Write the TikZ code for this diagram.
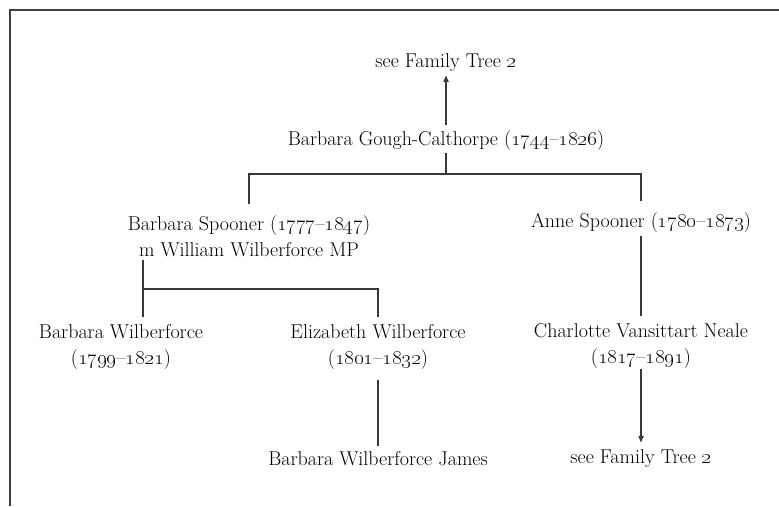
\documentclass[tikz,border=0pt]{standalone}
\usetikzlibrary{arrows.meta}
\newcommand{\yrs}[2]{(\oldstylenums{#1}--\oldstylenums{#2})}
\begin{document}
\begin{tikzpicture}[x=1pt,y=-1pt,
  person/.style={align=center,inner sep=0pt,outer sep=0pt,font=\fontsize{20}{26}\selectfont,text=black},
  link/.style={line width=1.1pt,draw=black!78},
  arr/.style={link,-{Latex[length=7pt,width=6pt]}},
  frame/.style={line width=1.2pt,draw=black!75}]
\useasboundingbox (0,0) rectangle (779,506);
\draw[frame] (779,10) -- (10,10) -- (10,506);
% people
\node[person] (see1) at (446,63) {see Family Tree \oldstylenums{2}};
\node[person] (gc)   at (446,141) {Barbara Gough-Calthorpe \yrs{1744}{1826}};
\node[person] (bs)   at (249,236) {Barbara Spooner \yrs{1777}{1847}\\m William Wilberforce MP};
\node[person] (as)   at (641,223) {Anne Spooner \yrs{1780}{1873}};
\node[person] (bw)   at (121,347) {Barbara Wilberforce\\\yrs{1799}{1821}};
\node[person] (ew)   at (378,347) {Elizabeth Wilberforce\\\yrs{1801}{1832}};
\node[person] (cvn)  at (641,346) {Charlotte Vansittart Neale\\\yrs{1817}{1891}};
\node[person] (bwj)  at (378,459) {Barbara Wilberforce James};
\node[person] (see2) at (641,459) {see Family Tree \oldstylenums{2}};
% junctions
\coordinate (j1) at (446,174);
\coordinate (j2) at (143,289);
% connectors
\draw[arr,shorten <=6pt,shorten >=3pt] (gc.north) -- (see1.south);
\draw[link,shorten <=2pt] (gc.south) -- (j1);
\draw[link,shorten <=11pt,shorten >=12pt] (bs.north) |- (j1) -| (as.north);
\draw[link,shorten <=3pt,shorten >=7pt] (bs.south -| j2) -- (bw.north -| j2);
\draw[link,shorten >=7pt] (j2) -| (ew.north);
\draw[link,shorten <=10pt,shorten >=6pt] (ew.south) -- (bwj.north);
\draw[link,shorten <=3pt,shorten >=8pt] (as.south) -- (cvn.north);
\draw[arr,shorten <=1pt,shorten >=7pt] (cvn.south) -- (see2.north);
\end{tikzpicture}
\end{document}
